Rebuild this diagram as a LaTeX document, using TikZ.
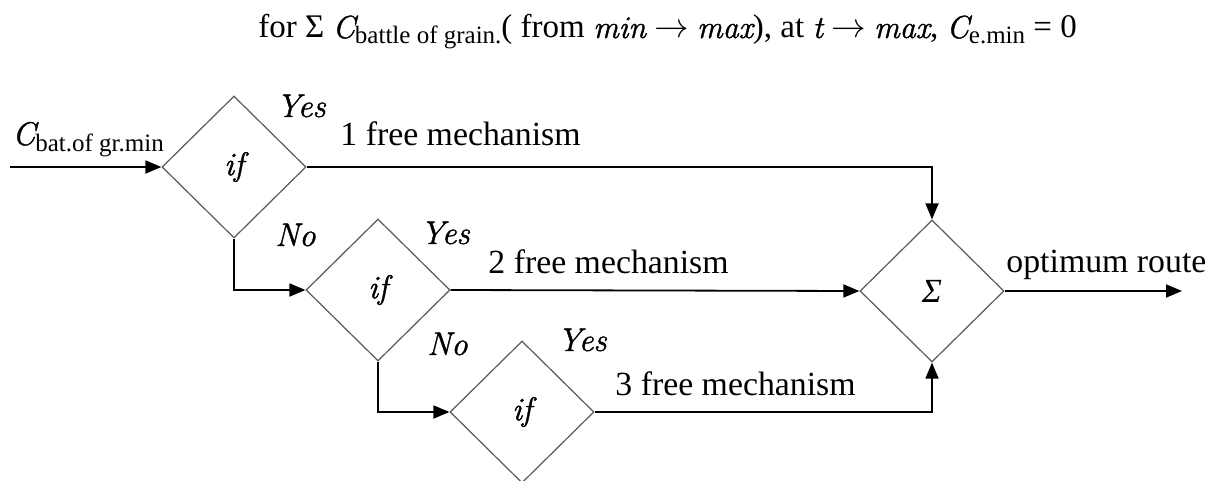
\documentclass[tikz,border=0pt]{standalone}
\usepackage{fontspec}
\setmainfont{Liberation Serif}
\newfontfamily\lmit{Latin Modern Roman}[Scale=0.97,ItalicFeatures={FakeBold=1.2}]
\usetikzlibrary{shapes.geometric,arrows.meta}
\newcommand{\sbx}[1]{\raisebox{-0.18em}{\fontsize{12.5pt}{14pt}\selectfont #1}}
\newcommand{\rarr}{\ensuremath{\rightarrow}}
\newcommand{\ii}[1]{{\lmit\itshape #1}}
\begin{document}
\begin{tikzpicture}[x=0.5pt,y=-0.5pt,
  every node/.style={font=\fontsize{16.9pt}{20pt}\selectfont, inner sep=0pt},
  dia/.style={shape=diamond, draw=black!65, line width=0.6pt, minimum width=72pt, minimum height=71pt, inner sep=0pt},
  conn/.style={line width=0.9pt, -{Triangle[length=8pt,width=6.5pt]}},
  lbl/.style={anchor=base west}]
\useasboundingbox (0,0) rectangle (1215,481);
\node[lbl, font=\fontsize{16.5pt}{20pt}\selectfont] (title) at (258,38) {for Σ \ii{C}\sbx{battle of grain.}( from \ii{min} \rarr{} \ii{max}), at \ii{t} \rarr{} \ii{max}, \ii{C}\sbx{e.min} = 0};
\node[dia] (d1) at (234,167) {\ii{if}};
\node[dia] (d2) at (378,290) {\ii{if}};
\node[dia] (d3) at (522,412) {\ii{if}};
\node[dia] (s) at (932,291) {\textit{Σ}};
\coordinate (in) at (10,167);
\coordinate (out) at (1182,291);
\node[lbl] (cin) at (12,145) {\ii{C}\sbx{bat.of gr.min}};
\node[lbl] (y1) at (276,117) {\ii{Yes}};
\node[lbl] (n1) at (275,246) {\ii{No}};
\node[lbl] (y2) at (420,244) {\ii{Yes}};
\node[lbl] (n2) at (427,355) {\ii{No}};
\node[lbl] (y3) at (557,351) {\ii{Yes}};
\node[lbl] (m1) at (340,146) {1 free mechanism};
\node[lbl] (m2) at (488,273) {2 free mechanism};
\node[lbl] (m3) at (615,395) {3 free mechanism};
\node[lbl] (opt) at (1006,272) {optimum route};
\draw[conn] (in) -- (d1.west);
\draw[conn] (d1.east) -| (s.north);
\draw[conn] (d2.east) -- (s.west);
\draw[conn] (d3.east) -| (s.south);
\draw[conn] (s.east) -- (out);
\draw[conn] (d1.south) |- (d2.west);
\draw[conn] (d2.south) |- (d3.west);
\end{tikzpicture}
\end{document}
